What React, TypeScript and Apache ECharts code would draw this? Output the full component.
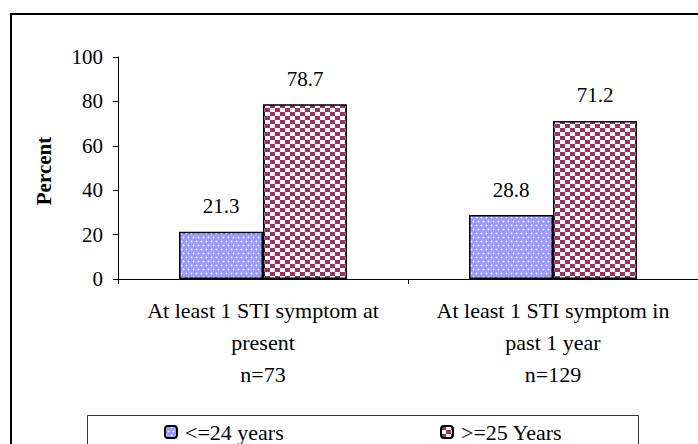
import React, { useEffect, useRef } from "react";
import * as echarts from "echarts";

const categories = [
  "At least 1 STI symptom at\npresent\nn=73",
  "At least 1 STI symptom in\npast 1 year\nn=129",
];
const seriesNames = ["<=24 years", ">=25 Years"];
const youngValues = [21.3, 28.8];
const olderValues = [78.7, 71.2];
const yTicks = { min: 0, max: 100, interval: 20 };

const FONT = "Liberation Serif";

function dotPattern(): HTMLCanvasElement {
  const c = document.createElement("canvas");
  c.width = 10;
  c.height = 8;
  const g = c.getContext("2d")!;
  g.fillStyle = "#9999ff";
  g.fillRect(0, 0, 10, 8);
  const dots = [
    [1, 1],
    [6, 1],
    [3, 5],
    [8, 5],
  ];
  for (const [x, y] of dots) {
    g.fillStyle = "#c4c4ff";
    g.fillRect(x - 1, y, 3, 1);
    g.fillRect(x, y - 1, 1, 3);
    g.fillStyle = "#ffffff";
    g.fillRect(x, y, 1, 1);
  }
  return c;
}

function checkPattern(): HTMLCanvasElement {
  const c = document.createElement("canvas");
  c.width = 10;
  c.height = 8;
  const g = c.getContext("2d")!;
  g.fillStyle = "#ffffff";
  g.fillRect(0, 0, 10, 8);
  g.fillStyle = "#993366";
  g.fillRect(0, 0, 5, 4);
  g.fillRect(5, 4, 5, 4);
  return c;
}

export default function App() {
  const ref = useRef<HTMLDivElement>(null);
  useEffect(() => {
    if (!ref.current) return;
    const chart = echarts.init(ref.current, undefined, { renderer: "svg" });
    const dot = { image: dotPattern(), repeat: "repeat" } as any;
    const check = { image: checkPattern(), repeat: "repeat" } as any;
    const labelStyle = {
      show: true,
      position: "top" as const,
      distance: 15,
      fontFamily: FONT,
      fontSize: 21,
      color: "#000",
    };
    chart.setOption({
      animation: false,
      backgroundColor: "#fff",
      grid: { left: 118, top: 57, width: 590, height: 222, containLabel: false },
      xAxis: {
        type: "category",
        data: categories,
        boundaryGap: true,
        axisLine: { lineStyle: { color: "#000", width: 1 } },
        axisTick: { show: true, length: 5, lineStyle: { color: "#000" } },
        axisLabel: {
          interval: 0,
          margin: 15,
          fontFamily: FONT,
          fontSize: 22,
          lineHeight: 32,
          color: "#000",
          align: "center",
        },
        splitLine: { show: false },
      },
      yAxis: {
        type: "value",
        min: yTicks.min,
        max: yTicks.max,
        interval: yTicks.interval,
        axisLine: { show: true, lineStyle: { color: "#000", width: 1 } },
        axisTick: { show: true, length: 5, lineStyle: { color: "#000" } },
        axisLabel: { margin: 15, fontFamily: FONT, fontSize: 21, color: "#000" },
        splitLine: { show: false },
      },
      legend: [
        {
          data: [seriesNames[0]],
          left: 164,
          top: 421,
          itemWidth: 12,
          itemHeight: 12,
          itemGap: 8,
          padding: 0,
          textStyle: { fontFamily: FONT, fontSize: 22, color: "#000", padding: [0, 0, 0, 3] },
        },
        {
          data: [seriesNames[1]],
          left: 440,
          top: 421,
          itemWidth: 12,
          itemHeight: 12,
          itemGap: 8,
          padding: 0,
          textStyle: { fontFamily: FONT, fontSize: 22, color: "#000", padding: [0, 0, 0, 3] },
        },
      ],
      graphic: [
        {
          type: "rect",
          shape: { x: 11, y: 14, width: 720, height: 460 },
          style: { fill: "none", stroke: "#000", lineWidth: 2 },
          silent: true,
        },
        {
          type: "rect",
          shape: { x: 87.5, y: 415.5, width: 551, height: 50 },
          style: { fill: "none", stroke: "#333", lineWidth: 1 },
          silent: true,
        },
        {
          type: "text",
          x: 44,
          y: 171,
          rotation: Math.PI / 2,
          style: {
            text: "Percent",
            align: "center",
            verticalAlign: "middle",
            fontFamily: FONT,
            fontWeight: "bold",
            fontSize: 21,
            fill: "#000",
          },
          silent: true,
        },
      ],
      series: [
        {
          name: seriesNames[0],
          type: "bar",
          data: youngValues,
          barWidth: 84,
          barGap: "0%",
          itemStyle: { color: dot, borderColor: "#000", borderWidth: 1.5 },
          label: labelStyle,
        },
        {
          name: seriesNames[1],
          type: "bar",
          data: olderValues,
          barWidth: 84,
          barGap: "0%",
          itemStyle: { color: check, borderColor: "#000", borderWidth: 1.5 },
          label: labelStyle,
        },
      ],
    });
    return () => chart.dispose();
  }, []);
  return (
    <div
      ref={ref}
      style={{ position: "fixed", left: 0, top: 0, width: 698, height: 444 }}
    />
  );
}
